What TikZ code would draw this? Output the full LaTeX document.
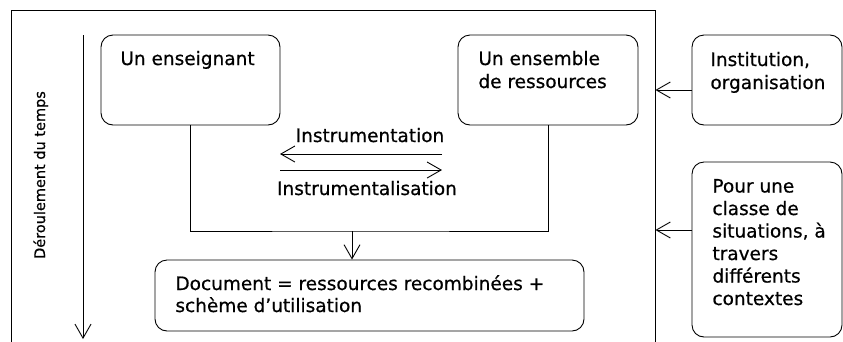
\documentclass[tikz,border=0pt]{standalone}
\usepackage{fontspec}
\setmainfont[FakeBold=0.6]{DejaVu Sans}
\usetikzlibrary{arrows.meta}

\begin{document}
\begin{tikzpicture}[x=1pt,y=-1pt,line width=0.9pt,
    boite/.style={draw,rounded corners=12pt,inner sep=0pt},
    texte/.style={anchor=base west,align=left,inner sep=0pt,font=\fontsize{18.5}{23}\selectfont},
    fleche/.style={-{Straight Barb[length=14pt,width=16pt,line width=0.9pt]}}]
  \useasboundingbox (0,0) rectangle (843,341);
  % cadre et axe du temps
  \node[draw,inner sep=0pt,minimum width=644pt,minimum height=350pt] (cadre) at (333,185) {};
  \coordinate (t0) at (83,35);
  \coordinate (t1) at (83,339);
  \draw[fleche] (t0) -- (t1);
  \node[rotate=90,anchor=base,inner sep=0pt,font=\fontsize{14.5}{17}\selectfont] (temps) at (45,175) {Déroulement du temps};
  % boites
  \node[boite,minimum width=179pt,minimum height=90pt] (ens) at (190.5,80) {};
  \node[boite,minimum width=180pt,minimum height=90pt] (res) at (548,80) {};
  \node[boite,minimum width=150pt,minimum height=90pt] (inst) at (767,80) {};
  \node[boite,minimum width=150pt,minimum height=175pt] (pour) at (767,249.5) {};
  \node[boite,minimum width=429pt,minimum height=71pt] (doc) at (369.5,295.5) {};
  % textes (ancre sur la derniere ligne)
  \node[texte] (ens-t) at (120,65) {Un enseignant};
  \node[texte] (res-t) at (478,88) {Un ensemble\\de ressources};
  \node[texte] (inst-t) at (710,89) {Institution,\\organisation};
  \node[texte,font=\fontsize{18.5}{22.5}\selectfont] (pour-t) at (712,305) {Pour une\\classe de\\situations, à\\travers\\différents\\contextes};
  \node[texte,font=\fontsize{18.5}{22}\selectfont] (doc-t) at (175,312) {Document = ressources recombinées +\\schème d’utilisation};
  % genese instrumentale
  \node[texte,anchor=base] (instr) at (370,142) {Instrumentation};
  \node[texte,anchor=base] (instl) at (367,195) {Instrumentalisation};
  \coordinate (i1) at (442,154);
  \coordinate (i2) at (280,154);
  \coordinate (i3) at (280,170);
  \coordinate (i4) at (442,170);
  \draw[fleche] (i1) -- (i2);
  \draw[fleche] (i3) -- (i4);
  % liaisons
  \coordinate (jonction) at (352,231);
  \draw (ens.south) |- (jonction) -| (res.south);
  \draw[fleche] (jonction) -- (jonction |- doc.north);
  \coordinate (a1) at (692,90);
  \coordinate (a2) at (692,230);
  \draw[fleche] (a1) -- (a1 -| cadre.east);
  \draw[fleche] (a2) -- (a2 -| cadre.east);
\end{tikzpicture}
\end{document}
